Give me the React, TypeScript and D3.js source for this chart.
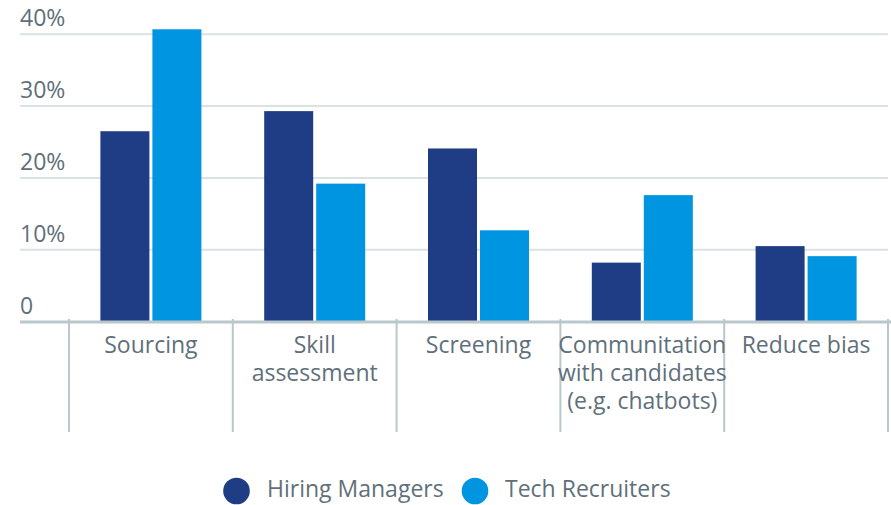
import React from "react";
import * as d3 from "d3";

const categories = ["Sourcing", "Skill assessment", "Screening", "Communitation with candidates (e.g. chatbots)", "Reduce bias"];
const categoryLines = [["Sourcing"], ["Skill", "assessment"], ["Screening"], ["Communitation", "with candidates", "(e.g. chatbots)"], ["Reduce bias"]];
const seriesNames = ["Hiring Managers", "Tech Recruiters"];
const hiringManagers = [26.5, 29.3, 24.1, 8.2, 10.5];
const techRecruiters = [40.7, 19.2, 12.7, 17.6, 9.1];
const yTicks = [0, 10, 20, 30, 40];

const W = 891;
const H = 505;
const colors = ["#1f3d84", "#0095e0"];
const textColor = "#5f707a";
const font = "'Open Sans', sans-serif";
const fs = 23;

export default function App() {
  const y = d3.scaleLinear().domain([0, 40]).range([321.5, 34.3]);
  const x = d3.scaleBand<string>().domain(categories).range([69, 888]);
  const inner = d3.scaleBand<string>().domain(seriesNames).range([0, 101]).paddingInner(0.0577);
  const values = [hiringManagers, techRecruiters];
  const groupW = 101;

  return (
    <svg width={W} height={H} style={{ position: "absolute", left: 0, top: 0 }} fontFamily={font}>
      {yTicks.slice(1).map((t) => (
        <line key={"g" + t} x1={20} x2={888} y1={y(t)} y2={y(t)} stroke="#d9e2e5" strokeWidth={2} />
      ))}
      {yTicks.map((t) => (
        <text key={"t" + t} x={20} y={y(t) - 8} fontSize={fs} fill={textColor}>
          {t === 0 ? "0" : t + "%"}
        </text>
      ))}
      {categories.map((c, i) =>
        seriesNames.map((s, j) => {
          const x0 = (x(c) as number) + x.bandwidth() / 2 - groupW / 2 + (inner(s) as number);
          return (
            <rect
              key={c + s}
              x={x0}
              y={y(values[j][i])}
              width={inner.bandwidth()}
              height={y(0) - y(values[j][i])}
              fill={colors[j]}
            />
          );
        })
      )}
      <line x1={20} x2={891} y1={322} y2={322} stroke="#b8c8cc" strokeWidth={3} />
      {[...categories.map((c) => x(c) as number), 888].map((bx, i) => (
        <line key={"s" + i} x1={bx} x2={bx} y1={319} y2={432} stroke="#b8c8cc" strokeWidth={2} />
      ))}
      {categories.map((c, i) => (
        <text key={"l" + c} x={(x(c) as number) + x.bandwidth() / 2} y={353} textAnchor="middle" fontSize={fs} fill={textColor}>
          {categoryLines[i].map((ln, k) => (
            <tspan key={k} x={(x(c) as number) + x.bandwidth() / 2} dy={k === 0 ? 0 : 28}>
              {ln}
            </tspan>
          ))}
        </text>
      ))}
      <g>
        <circle cx={236.5} cy={491} r={13.3} fill={colors[0]} />
        <text x={267} y={497} fontSize={fs} fill={textColor}>{seriesNames[0]}</text>
        <circle cx={475} cy={491} r={13.3} fill={colors[1]} />
        <text x={505} y={497} fontSize={fs} fill={textColor}>{seriesNames[1]}</text>
      </g>
    </svg>
  );
}
